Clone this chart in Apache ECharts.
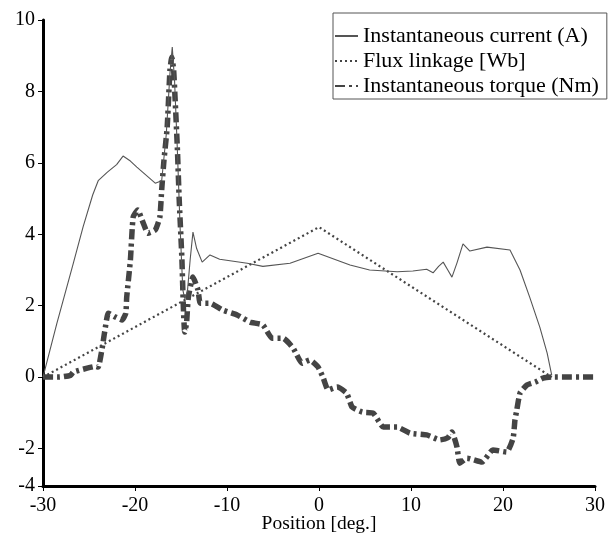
<!DOCTYPE html>
<html>
<head>
<meta charset="utf-8">
<script src="https://cdn.jsdelivr.net/npm/echarts@6/dist/echarts.min.js"></script>
<style>html,body{margin:0;padding:0;background:#fff;}#c{width:610px;height:539px;}</style>
</head>
<body>
<div id="c"></div>
<script>
const seriesNames = ['Instantaneous current (A)', 'Flux linkage [Wb]', 'Instantaneous torque (Nm)'];
const xTicks = [-30, -20, -10, 0, 10, 20, 30];
const yTickValues = [-3.05, -2, 0, 2, 4, 6, 8, 10];
const yTickLabels = ['-4', '-2', '0', '2', '4', '6', '8', '10'];

const currentX = [-30, -28.5, -26.7, -25.65, -24.6, -24.0, -23.0, -22.0, -21.3, -20.5, -19.8, -17.8, -17.1, -16.6, -16.2, -15.95, -15.7, -15.4, -15.1, -14.8, -14.6, -14.3, -14.0, -13.7, -13.3, -12.7, -11.85, -10.8, -7.8, -6.1, -3.15, -0.1, 3.37, 5.5, 8.5, 10.2, 11.7, 12.4, 13.0, 13.5, 14.0, 14.45, 15.0, 15.65, 16.4, 18.26, 20.76, 21.85, 22.9, 24.0, 24.8, 25.3];
const currentY = [0, 1.5, 3.19, 4.2, 5.1, 5.5, 5.74, 5.95, 6.19, 6.05, 5.88, 5.43, 5.5, 6.8, 8.5, 9.24, 8.3, 6.4, 4.2, 2.44, 2.2, 2.4, 3.3, 4.06, 3.6, 3.22, 3.42, 3.3, 3.19, 3.1, 3.19, 3.47, 3.14, 3.0, 2.95, 2.97, 3.02, 2.92, 3.1, 3.22, 3.0, 2.8, 3.2, 3.73, 3.53, 3.64, 3.56, 3.0, 2.24, 1.4, 0.67, 0.05];

const fluxX = [-30, 0, 25.3];
const fluxY = [0, 4.2, 0];

const torqueX = [-30, -28.2, -27, -26.7, -25.2, -24.3, -24.0, -23.6, -23.3, -22.9, -22.2, -21.4, -21.0, -20.9, -20.5, -20.2, -19.7, -19.1, -18.6, -17.8, -17.3, -17.1, -16.85, -16.5, -16.2, -16.0, -15.8, -15.65, -15.4, -15.2, -14.9, -14.75, -14.6, -14.4, -14.2, -13.7, -13.15, -12.9, -11.85, -10.5, -8.9, -7.5, -6.1, -5.1, -3.9, -2.8, -1.85, -1.0, -0.65, -0.1, 0.43, 1.0, 1.96, 3.0, 3.6, 4.7, 5.9, 7.0, 8.5, 9.9, 11.7, 13.15, 14.0, 14.45, 15.0, 15.3, 16.1, 17.7, 18.9, 20.4, 21.1, 21.3, 21.5, 21.85, 22.6, 23.5, 24.35, 25.3, 30];
const torqueY = [0, 0, 0.05, 0.14, 0.25, 0.3, 0.28, 0.76, 1.26, 1.79, 1.69, 1.6, 1.79, 2.24, 3.28, 4.48, 4.68, 4.31, 4.03, 4.12, 4.48, 5.24, 6.08, 7.0, 8.6, 8.96, 8.6, 7.84, 6.44, 5.0, 3.3, 2.0, 1.26, 1.5, 2.24, 2.8, 2.44, 2.07, 2.07, 1.88, 1.74, 1.54, 1.46, 1.09, 1.09, 0.81, 0.39, 0.48, 0.42, 0.28, 0, -0.36, -0.28, -0.45, -0.84, -0.98, -1.01, -1.4, -1.4, -1.57, -1.62, -1.76, -1.7, -1.54, -1.96, -2.41, -2.27, -2.38, -2.04, -2.1, -1.71, -1.2, -0.92, -0.45, -0.22, -0.14, -0.03, 0, 0];

function zip(xs, ys) { return xs.map((x, i) => [x, ys[i]]); }

const font = 'Liberation Serif';
const chart = echarts.init(document.getElementById('c'), null, {renderer: 'canvas'});
chart.setOption({
  animation: false,
  backgroundColor: '#fff',
  grid: {left: 43, right: 15, top: 20, bottom: 53, containLabel: false, outerBoundsMode: 'none'},
  legend: {
    orient: 'vertical', left: 333, top: 13,
    padding: [12, 8, 2, 1], itemGap: 3, itemWidth: 23, itemHeight: 14,
    borderColor: '#555', borderWidth: 1, borderRadius: 0,
    itemStyle: {opacity: 0},
    textStyle: {fontFamily: font, fontSize: 22, color: '#000'},
    data: seriesNames
  },
  xAxis: {
    type: 'value', min: -30, max: 30, interval: 10,
    name: 'Position [deg.]', nameLocation: 'middle', nameGap: 28, nameMoveOverlap: false,
    nameTextStyle: {fontFamily: font, fontSize: 19.5, color: '#000'},
    axisLine: {onZero: false, lineStyle: {color: '#000', width: 3}},
    axisTick: {show: true, length: 5, lineStyle: {color: '#000', width: 1}},
    axisLabel: {fontFamily: font, fontSize: 20, color: '#000', margin: 10,
      customValues: xTicks},
    splitLine: {show: false}
  },
  yAxis: {
    type: 'value', min: -3.05, max: 10,
    axisLine: {show: true, onZero: false, lineStyle: {color: '#000', width: 3}},
    axisTick: {show: true, length: 5, lineStyle: {color: '#000', width: 1}, customValues: yTickValues},
    axisLabel: {fontFamily: font, fontSize: 20, color: '#000', margin: 8,
      customValues: yTickValues,
      formatter: function (v) { const i = yTickValues.findIndex(t => Math.abs(t - v) < 1e-6); return i >= 0 ? yTickLabels[i] : ''; }},
    splitLine: {show: false}
  },
  series: [
    {name: seriesNames[0], type: 'line', data: zip(currentX, currentY), symbol: 'none',
      lineStyle: {color: '#555', width: 1.1, type: 'solid'}, itemStyle: {color: '#555'}, z: 3},
    {name: seriesNames[1], type: 'line', data: zip(fluxX, fluxY), symbol: 'none',
      lineStyle: {color: '#444', width: 2.2, type: [2, 3]}, itemStyle: {color: '#444'}, z: 2},
    {name: seriesNames[2], type: 'line', data: zip(torqueX, torqueY), symbol: 'none', smooth: 0.15,
      lineStyle: {color: '#444', width: 5.5, type: [10, 4, 3, 4], cap: 'butt'}, itemStyle: {color: '#444'}, z: 1}
  ]
});
</script>
</body>
</html>
